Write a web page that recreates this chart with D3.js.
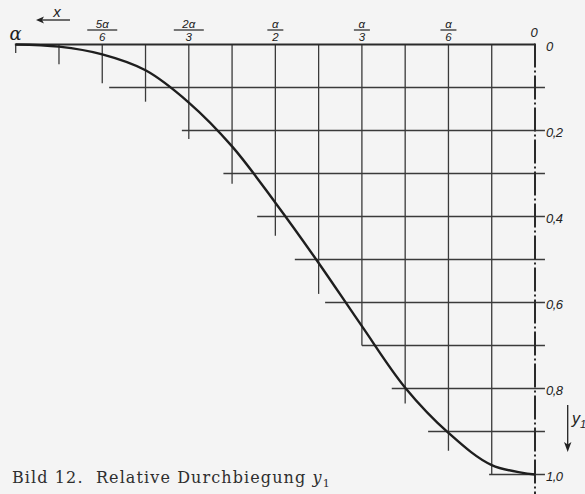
<!DOCTYPE html>
<html><head><meta charset="utf-8">
<script src="https://cdn.jsdelivr.net/npm/d3@7"></script>
<style>
html,body{margin:0;padding:0;background:#f4f4f4;}
svg{display:block;}
</style></head>
<body>
<script>
// ---- data (x in units of α/12, measured leftwards from 0; y = relative deflection y1) ----
const curveX = [12, 11, 10, 9, 8, 7, 6, 5, 4, 3, 2, 1, 0];
const curveY = [0, 0.005, 0.023, 0.060, 0.135, 0.237, 0.368, 0.508, 0.655, 0.798, 0.903, 0.978, 1.0];

// vertical grid lines (at multiples of α/12) and how far down they reach (in y1 units)
const vGridX   = [12, 11, 10, 9, 8, 7, 6, 5, 4, 3, 2, 1];
const vGridEnd = [0.02, 0.046, 0.090, 0.133, 0.22, 0.324, 0.445, 0.58, 0.70, 0.835, 0.945, 1.0];

// horizontal grid lines (y1 levels) and where they start on the left (units of α/12)
const hGridY     = [0.1, 0.2, 0.3, 0.4, 0.5, 0.6, 0.7, 0.8, 0.9, 1.0];
const hGridStart = [9.84, 8.16, 7.20, 6.42, 5.55, 4.85, 4.0, 3.31, 2.47, 1.06];

// top tick labels
const topFracPos = [10, 8, 6, 4, 2];
const topFracNum = ["5α", "2α", "α", "α", "α"];
const topFracDen = ["6", "3", "2", "3", "6"];
// right tick labels
const rightTickVals = [0, 0.2, 0.4, 0.6, 0.8, 1.0];
const rightTickText = ["0", "0,2", "0,4", "0,6", "0,8", "1,0"];

const W = 585, H = 494;
const svg = d3.select("body").append("svg").attr("width", W).attr("height", H);
svg.append("rect").attr("width", W).attr("height", H).attr("fill", "#f4f4f4");

const x = d3.scaleLinear().domain([12, 0]).range([15.7, 535]);
const y = d3.scaleLinear().domain([0, 1]).range([44.5, 474.5]);

const ink = "#3a3a3a";
const g = svg.append("g");

// vertical grid lines
g.selectAll("line.v").data(vGridX).join("line")
  .attr("x1", d => x(d)).attr("x2", d => x(d))
  .attr("y1", y(0)).attr("y2", (d, i) => y(vGridEnd[i]))
  .attr("stroke", ink).attr("stroke-width", 1.3);

// horizontal grid lines
g.selectAll("line.h").data(hGridY).join("line")
  .attr("y1", d => y(d)).attr("y2", d => y(d))
  .attr("x1", (d, i) => x(hGridStart[i])).attr("x2", x(-0.23))
  .attr("stroke", ink).attr("stroke-width", 1.3);

// top axis line
g.append("line").attr("x1", x(12.02)).attr("x2", x(0)).attr("y1", y(0)).attr("y2", y(0))
  .attr("stroke", "#2a2a2a").attr("stroke-width", 2);

// right dash-dot symmetry axis
g.append("line").attr("x1", x(0)).attr("x2", x(0)).attr("y1", y(0) - 1).attr("y2", H)
  .attr("stroke", "#2a2a2a").attr("stroke-width", 2)
  .attr("stroke-dasharray", "24,3,2,3");

// the curve
const pts = curveX.map((d, i) => [d, curveY[i]]);
g.append("path").datum(pts)
  .attr("d", d3.line().x(d => x(d[0])).y(d => y(d[1])).curve(d3.curveCatmullRom.alpha(0.5)))
  .attr("fill", "none").attr("stroke", "#1e1e1e").attr("stroke-width", 2.4);

// top labels
const lblFont = "'Liberation Sans', 'DejaVu Sans', sans-serif";
svg.append("text").attr("x", x(12)).attr("y", 39.5).attr("text-anchor", "middle")
  .attr("font-family", "'DejaVu Serif', serif").attr("font-style", "italic")
  .attr("font-size", 18).attr("fill", "#222").text("α");
svg.append("text").attr("x", x(0) - 1).attr("y", 36.5).attr("text-anchor", "middle")
  .attr("font-family", lblFont).attr("font-style", "italic")
  .attr("font-size", 13).attr("fill", "#222").text("0");

const fr = svg.selectAll("g.frac").data(topFracPos).join("g")
  .attr("transform", d => `translate(${x(d)},0)`);
fr.append("text").attr("y", 27.5).attr("text-anchor", "middle")
  .attr("font-family", lblFont).attr("font-style", "italic").attr("font-size", 11.5)
  .attr("fill", "#222").text((d, i) => topFracNum[i]);
fr.append("text").attr("y", 40.5).attr("text-anchor", "middle")
  .attr("font-family", lblFont).attr("font-style", "italic").attr("font-size", 11.5)
  .attr("fill", "#222").text((d, i) => topFracDen[i]);
fr.append("line").attr("y1", 30).attr("y2", 30)
  .attr("x1", (d, i) => topFracNum[i].length > 1 ? -15 : -8)
  .attr("x2", (d, i) => topFracNum[i].length > 1 ? 15 : 8)
  .attr("stroke", "#222").attr("stroke-width", 1.2);

// x arrow
svg.append("text").attr("x", 57).attr("y", 17).attr("text-anchor", "middle")
  .attr("font-family", lblFont).attr("font-style", "italic").attr("font-size", 15)
  .attr("fill", "#222").text("x");
svg.append("line").attr("x1", 70).attr("x2", 41).attr("y1", 20).attr("y2", 20)
  .attr("stroke", "#222").attr("stroke-width", 1.3);
svg.append("path").attr("d", "M36,20 L44,16.5 L42,20 L44,23.5 Z").attr("fill", "#222");

// right labels
svg.selectAll("text.rt").data(rightTickVals).join("text")
  .attr("x", 546).attr("y", d => y(d) + 6)
  .attr("font-family", lblFont).attr("font-style", "italic").attr("font-size", 13)
  .attr("letter-spacing", -0.6)
  .attr("fill", "#222").text((d, i) => rightTickText[i]);

// y1 arrow
svg.append("line").attr("x1", 567.7).attr("x2", 567.7).attr("y1", 405).attr("y2", 446)
  .attr("stroke", "#222").attr("stroke-width", 1.3);
svg.append("path").attr("d", "M567.7,452 L564,442 L567.7,444.5 L571.4,442 Z").attr("fill", "#222");
const yl = svg.append("text").attr("x", 572).attr("y", 424)
  .attr("font-family", lblFont).attr("font-style", "italic").attr("font-size", 16)
  .attr("fill", "#222");
yl.append("tspan").text("y");
yl.append("tspan").attr("dy", 4).attr("font-size", 11).text("1");

// caption
const cap = svg.append("text").attr("x", 12).attr("y", 483)
  .attr("font-family", "'DejaVu Serif', serif").attr("font-size", 16)
  .attr("letter-spacing", 1.1)
  .attr("fill", "#2e2e2e");
cap.append("tspan").text("Bild 12.  Relative Durchbiegung ").attr("xml:space", "preserve");
cap.append("tspan").attr("font-style", "italic").text("y");
cap.append("tspan").attr("dy", 4).attr("font-size", 11).text("1");
</script>
</body></html>
